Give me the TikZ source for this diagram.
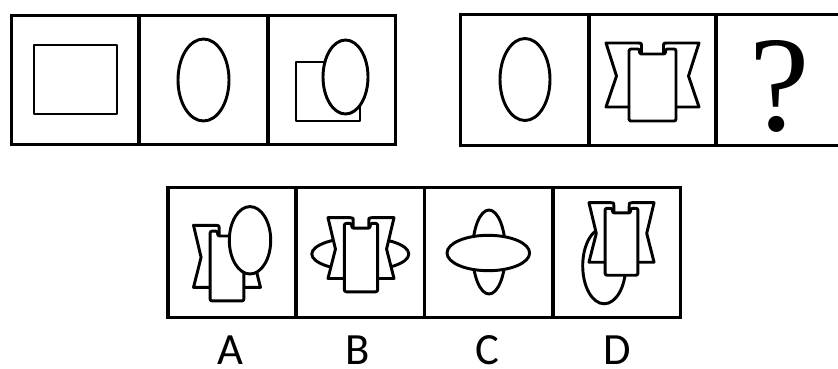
\documentclass[tikz,border=0pt]{standalone}
\usepackage{fontspec}
\usepackage{tikz}
\newfontfamily\optfont{Carlito}
\newfontfamily\qmfont{Liberation Serif}

\begin{document}
\begin{tikzpicture}[x=0.75pt,y=-0.75pt,
  frame/.style={line width=2.4pt},
  fig/.style={line width=2.2pt,fill=white,line join=round}]
  \useasboundingbox (0,0) rectangle (838,368);
  % top row, left strip
  \draw[frame] (11.5,15.5) rectangle (395.5,144.5);
  \draw[frame] (139,15.5) -- (139,144.5);
  \draw[frame] (268,15.5) -- (268,144.5);
  % top row, right strip (runs off the page)
  \draw[frame] (838,14.5) -- (460.5,14.5) -- (460.5,145.5) -- (838,145.5);
  \draw[frame] (589,14.5) -- (589,145.5);
  \draw[frame] (716,14.5) -- (716,145.5);
  % answer strip
  \draw[frame] (168,187.5) rectangle (680.5,317.5);
  \foreach \xd in {296,424.5,553} \draw[frame] (\xd,187.5) -- (\xd,317.5);

  % first three cells
  \draw[fig] (34,45) rectangle (117,114);
  \draw[fig] (203.5,80) ellipse [x radius=25.5, y radius=41];
  \draw[fig] (296,62) rectangle (360,121);
  \draw[fig] (345.5,77) ellipse [x radius=22.5, y radius=37];
  \draw[fig] (525,79.5) ellipse [x radius=25, y radius=41];

  % ellipses lying behind
  \draw[fig] (360.3,254) ellipse [x radius=48.5, y radius=16.5];
  \draw[fig] (604.2,265.8) ellipse [x radius=21.5, y radius=38];
  \draw[fig] (489,252) ellipse [x radius=16.5, y radius=42];
  \draw[fig] (488.3,253) ellipse [x radius=41.3, y radius=17.7];

  % bow pieces with the tabbed card
  \foreach \cx/\cy/\sx/\sy in {652.5/43/1/1, 227/225.3/0.72/0.97, 361/217.7/0.71/0.95, 621.5/202.7/0.70/0.93}{
    \begin{scope}[shift={(\cx,\cy)},xscale=\sx,yscale=\sy]
      \draw[fig] (-46.5,0) -- (-15,0) .. controls (-11,0) .. (-11,4) -- (-11,64) -- (-46.5,64) -- (-36,33) -- cycle;
      \draw[fig] (46.5,0) -- (15,0) .. controls (11,0) .. (11,4) -- (11,64) -- (46.5,64) -- (36,33) -- cycle;
      \draw[fig,rounded corners=1.5pt] (-23.5,78) -- (-23.5,6) -- (-13,6) -- (-13,11) -- (13,11) -- (13,6) -- (23.5,6) -- (23.5,78) -- cycle;
    \end{scope}
  }
  \draw[fig] (250,240.3) ellipse [x radius=20.7, y radius=33.7];

  \node[font={\qmfont\fontsize{102}{102}\selectfont},anchor=base,inner sep=0pt] (qmark) at (780,130) {?};
  \foreach \lab/\lx in {A/230.5,B/357.5,C/487.5,D/617.5}
    \node[font={\optfont\fontsize{33.5}{34}\selectfont},anchor=base,inner sep=0pt] (lab\lab) at (\lx,364.5) {\lab};
\end{tikzpicture}
\end{document}
